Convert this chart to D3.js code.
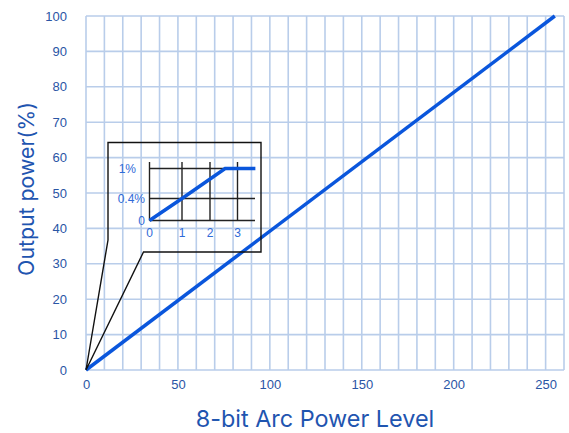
<!DOCTYPE html>
<html><head><meta charset="utf-8">
<script src="https://cdn.jsdelivr.net/npm/d3@7"></script>
<style>body{margin:0;background:#fff}svg{display:block}</style>
</head><body>
<script>
// Main data
const levels = [0, 255];
const outputPct = [0, 100];
const xTicks = [0, 50, 100, 150, 200, 250];
const yTicks = [0, 10, 20, 30, 40, 50, 60, 70, 80, 90, 100];
// Inset data (zoom on low levels)
const insetLevels = [0, 1, 2.55, 3.65];
const insetPct = [0, 0.4, 1, 1];
const insetXTicks = [0, 1, 2, 3];
const insetYTicks = [0, 0.4, 1];
const insetYLabels = ["0", "0.4%", "1%"];

const W = 569, H = 433;
const m = {l: 86, t: 16, r: 5, b: 63};
const svg = d3.select("body").append("svg").attr("width", W).attr("height", H);

const x = d3.scaleLinear().domain([0, 260]).range([m.l, W - m.r]);
const y = d3.scaleLinear().domain([0, 100]).range([H - m.b, m.t]);

const gridColor = "#b9cdea";
const g = svg.append("g");
// grid
g.selectAll(".vg").data(d3.range(0, 261, 10)).join("line")
  .attr("x1", d => x(d)).attr("x2", d => x(d)).attr("y1", y(0)).attr("y2", y(100))
  .attr("stroke", gridColor).attr("stroke-width", 1.6);
g.selectAll(".hg").data(yTicks).join("line")
  .attr("x1", x(0)).attr("x2", x(260)).attr("y1", d => y(d)).attr("y2", d => y(d))
  .attr("stroke", gridColor).attr("stroke-width", 1.6);

const tickColor = "#2a55a5";
// axes via d3 axis
const xAxis = svg.append("g").attr("transform", `translate(0,${y(0)})`)
  .call(d3.axisBottom(x).tickValues(xTicks).tickSize(0).tickPadding(10));
const yAxis = svg.append("g").attr("transform", `translate(${x(0)},0)`)
  .call(d3.axisLeft(y).tickValues(yTicks).tickSize(0).tickPadding(19));
[xAxis, yAxis].forEach(a => {
  a.select(".domain").remove();
  a.selectAll("text").attr("fill", tickColor).style("font-family", "Liberation Sans, Arial, sans-serif").style("font-size", "13px");
});

// titles
svg.append("text").attr("x", 315).attr("y", 427).attr("text-anchor", "middle")
  .attr("fill", "#1f55b0").style("font-family", "Inter, sans-serif").style("font-size", "23.4px")
  .text("8-bit Arc Power Level");
svg.append("text").attr("transform", `translate(34,189) rotate(-90)`).attr("text-anchor", "middle")
  .attr("fill", "#1f55b0").style("font-family", "Inter, sans-serif").style("font-size", "21.3px")
  .text("Output power(%)");

// main line
const line = d3.line().x(d => x(d[0])).y(d => y(d[1]));
svg.append("path").datum(levels.map((v, i) => [v, outputPct[i]]))
  .attr("d", line).attr("fill", "none").attr("stroke", "#0a56dc").attr("stroke-width", 3.5);

// inset callout frame (connects to origin)
const o = [x(0), y(0)];
const frame = [o, [108, 240], [108, 142.5], [261, 142.5], [261, 252], [143.5, 252], o];
svg.append("path").attr("d", d3.line()(frame)).attr("fill", "none")
  .attr("stroke", "#111").attr("stroke-width", 1.4);

// inset chart
const ix = d3.scaleLinear().domain([0, 1, 2, 3]).range([149.5, 182, 210, 237.5]);
const iy = d3.scaleLinear().domain([0, 0.4, 1]).range([220.5, 198.5, 168.5]);
const ig = svg.append("g");
ig.selectAll(".ivg").data(insetXTicks).join("line")
  .attr("x1", d => ix(d)).attr("x2", d => ix(d)).attr("y1", 162).attr("y2", iy(0))
  .attr("stroke", "#222").attr("stroke-width", 1.4);
ig.selectAll(".ihg").data(insetYTicks).join("line")
  .attr("x1", ix(0)).attr("x2", 255).attr("y1", d => iy(d)).attr("y2", d => iy(d))
  .attr("stroke", "#222").attr("stroke-width", 1.4);
const insetColor = "#2f6ad8";
ig.selectAll(".ixl").data(insetXTicks).join("text")
  .attr("x", d => ix(d)).attr("y", 237).attr("text-anchor", "middle")
  .attr("fill", insetColor).style("font-family", "Liberation Sans, Arial, sans-serif").style("font-size", "12px")
  .text(d => d);
ig.selectAll(".iyl").data(insetYTicks).join("text")
  .attr("x", (d, i) => i === 2 ? 136 : 145).attr("y", d => iy(d) + 4).attr("text-anchor", "end")
  .attr("fill", insetColor).style("font-family", "Liberation Sans, Arial, sans-serif").style("font-size", "12px")
  .text((d, i) => insetYLabels[i]);
const iline = d3.line().x(d => ix(d[0])).y(d => iy(d[1]));
ig.append("path").datum(insetLevels.map((v, i) => [v, insetPct[i]]))
  .attr("d", iline).attr("fill", "none").attr("stroke", "#0a56dc").attr("stroke-width", 3.5);
</script>
</body></html>
